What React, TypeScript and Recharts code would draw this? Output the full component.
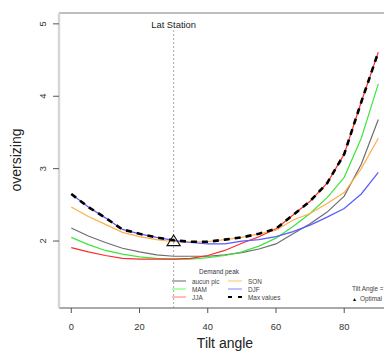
import React from "react";
import {
  Line,
  LineChart,
  ReferenceDot,
  ReferenceLine,
  XAxis,
  YAxis,
} from "recharts";

const FONT = '"Liberation Sans", Arial, sans-serif';

// tilt angles (deg) where each curve was read
const angles = [0, 5, 10, 15, 20, 25, 30, 35, 40, 45, 50, 55, 60, 65, 70, 75, 80, 85, 90];

// oversizing per demand-peak season
const aucunPic = [2.18, 2.07, 1.98, 1.9, 1.85, 1.81, 1.79, 1.79, 1.79, 1.81, 1.84, 1.89, 1.96, 2.1, 2.24, 2.4, 2.62, 3.06, 3.68];
const mam = [2.05, 1.95, 1.87, 1.82, 1.78, 1.76, 1.75, 1.75, 1.77, 1.8, 1.85, 1.93, 2.04, 2.2, 2.38, 2.6, 2.88, 3.42, 4.17];
const jja = [1.91, 1.85, 1.8, 1.76, 1.75, 1.75, 1.75, 1.76, 1.8, 1.87, 1.97, 2.06, 2.17, 2.36, 2.55, 2.8, 3.2, 3.92, 4.61];
const son = [2.47, 2.34, 2.23, 2.12, 2.06, 2.02, 1.99, 1.99, 1.99, 2.02, 2.05, 2.1, 2.15, 2.29, 2.38, 2.52, 2.67, 3.0, 3.42];
const djf = [2.65, 2.47, 2.32, 2.16, 2.1, 2.05, 2.01, 1.98, 1.96, 1.96, 2.0, 2.02, 2.06, 2.13, 2.22, 2.33, 2.45, 2.65, 2.95];
const maxValues = [2.65, 2.47, 2.32, 2.16, 2.1, 2.05, 2.01, 1.99, 1.99, 2.02, 2.05, 2.1, 2.17, 2.36, 2.55, 2.8, 3.2, 3.92, 4.61];

const xTicks = [0, 20, 40, 60, 80];
const yTicks = [2, 3, 4, 5];
const latStation = 30;
const optimal = { angle: 30, value: 2.0 };

const rows = angles.map((angle, i) => ({
  angle,
  aucunPic: aucunPic[i],
  mam: mam[i],
  jja: jja[i],
  son: son[i],
  djf: djf[i],
  maxValues: maxValues[i],
}));

const series = [
  { key: "aucunPic", name: "aucun pic", color: "#6e6e6e", swatch: "#8a8a8a" },
  { key: "mam", name: "MAM", color: "#3ce63c", swatch: "#80ff80" },
  { key: "jja", name: "JJA", color: "#ff2a2a", swatch: "#ff9a9a" },
  { key: "son", name: "SON", color: "#ffae4a", swatch: "#ffcf8a" },
  { key: "djf", name: "DJF", color: "#5a5aff", swatch: "#a0a0ff" },
];

function YTick({ x, y, payload }: any) {
  return (
    <g transform={`translate(${x},${y}) rotate(-90)`}>
      <text textAnchor="middle" fontSize={9.3} fill="#333" fontFamily={FONT}>
        {payload.value}
      </text>
    </g>
  );
}

function Triangle({ cx, cy }: any) {
  if (cx == null || cy == null) return null;
  return (
    <polygon
      points={`${cx},${cy - 6} ${cx - 6.5},${cy + 4.5} ${cx + 6.5},${cy + 4.5}`}
      fill="none"
      stroke="#111"
      strokeWidth={1.2}
    />
  );
}

function LatLabel({ cx, cy }: any) {
  if (cx == null || cy == null) return null;
  return (
    <text x={cx} y={cy} textAnchor="middle" dominantBaseline="central" fontSize={9.4} fill="#222" fontFamily={FONT}>
      Lat Station
    </text>
  );
}

function Swatch({ color, dashed }: { color: string; dashed?: boolean }) {
  return (
    <svg width={14} height={6} style={{ marginRight: 6, flex: "none" }}>
      <line
        x1={0}
        y1={3}
        x2={14}
        y2={3}
        stroke={color}
        strokeWidth={dashed ? 2 : 1.3}
        strokeDasharray={dashed ? "4 6" : undefined}
      />
    </svg>
  );
}

function DemandLegend() {
  const col1 = [series[0], series[1], series[2]];
  const col2 = [series[3], series[4]];
  const row = { display: "flex", alignItems: "center", height: 8 } as const;
  return (
    <div
      style={{
        position: "absolute",
        left: 172,
        top: 268,
        fontFamily: FONT,
        fontSize: 6.4,
        color: "#444",
      }}
    >
      <div style={{ textAlign: "center", width: 94, marginBottom: 2, color: "#334" }}>Demand peak</div>
      <div style={{ display: "flex" }}>
        <div style={{ width: 56 }}>
          {col1.map((s) => (
            <div key={s.key} style={row}>
              <Swatch color={s.swatch} />
              {s.name}
            </div>
          ))}
        </div>
        <div>
          {col2.map((s) => (
            <div key={s.key} style={row}>
              <Swatch color={s.swatch} />
              {s.name}
            </div>
          ))}
          <div style={row}>
            <Swatch color="#000" dashed />
            Max values
          </div>
        </div>
      </div>
    </div>
  );
}

function OptimalLegend() {
  return (
    <div
      style={{
        position: "absolute",
        left: 352,
        top: 284,
        fontFamily: FONT,
        fontSize: 6.4,
        color: "#444",
        whiteSpace: "nowrap",
        lineHeight: "10px",
      }}
    >
      <div>Tilt Angle =</div>
      <div>
        <span style={{ fontSize: 5, color: "#000", marginRight: 3 }}>▲</span>Optimal
      </div>
    </div>
  );
}

export default function App() {
  return (
    <div
      style={{
        position: "absolute",
        left: 0,
        top: 0,
        width: 384,
        height: 353,
        overflow: "hidden",
        background: "#fff",
      }}
    >
      <LineChart width={400} height={353} data={rows} margin={{ top: 13, right: 9.4, left: 0, bottom: 0 }}>
        <XAxis
          dataKey="angle"
          type="number"
          domain={[-3.6, 93.6]}
          ticks={xTicks}
          height={45}
          stroke="#888"
          axisLine={{ stroke: "#8c8c8c", strokeWidth: 1.3 }}
          tickLine={{ stroke: "#555" }}
          tickSize={5}
          tickMargin={10}
          tick={{ fontSize: 9.3, fill: "#333", fontFamily: FONT }}
        />
        <YAxis
          type="number"
          domain={[1.075, 5.15]}
          ticks={yTicks}
          width={59}
          axisLine={{ stroke: "#d6d6d6", strokeWidth: 2.5 }}
          tickLine={{ stroke: "#555" }}
          tickSize={6}
          tickMargin={7}
          tick={<YTick />}
        />
        <ReferenceLine y={5.15} stroke="#a8a8a8" strokeWidth={1.3} />
        <ReferenceLine
          segment={[
            { x: latStation, y: 1.075 },
            { x: latStation, y: 4.91 },
          ]}
          stroke="#aaa"
          strokeDasharray="2 2"
        />
        <ReferenceDot x={latStation} y={4.995} r={0} shape={<LatLabel />} />
        {series.map((s) => (
          <Line
            key={s.key}
            dataKey={s.key}
            name={s.name}
            type="linear"
            stroke={s.color}
            strokeWidth={1.2}
            dot={false}
            isAnimationActive={false}
          />
        ))}
        <Line
          dataKey="maxValues"
          name="Max values"
          type="linear"
          stroke="#000"
          strokeWidth={2.6}
          strokeDasharray="6 5"
          dot={false}
          isAnimationActive={false}
        />
        <ReferenceDot x={optimal.angle} y={optimal.value} r={6} shape={<Triangle />} />
      </LineChart>
      <div
        style={{
          position: "absolute",
          left: 59,
          width: 332,
          top: 335,
          textAlign: "center",
          fontFamily: FONT,
          fontSize: 14,
          lineHeight: "16px",
          color: "#222",
        }}
      >
        Tilt angle
      </div>
      <div
        style={{
          position: "absolute",
          left: 10,
          top: 160,
          transform: "translate(-50%, -50%) rotate(-90deg)",
          transformOrigin: "center",
          fontFamily: FONT,
          fontSize: 14,
          color: "#222",
          whiteSpace: "nowrap",
          marginLeft: 6,
        }}
      >
        oversizing
      </div>
      <DemandLegend />
      <OptimalLegend />
    </div>
  );
}
